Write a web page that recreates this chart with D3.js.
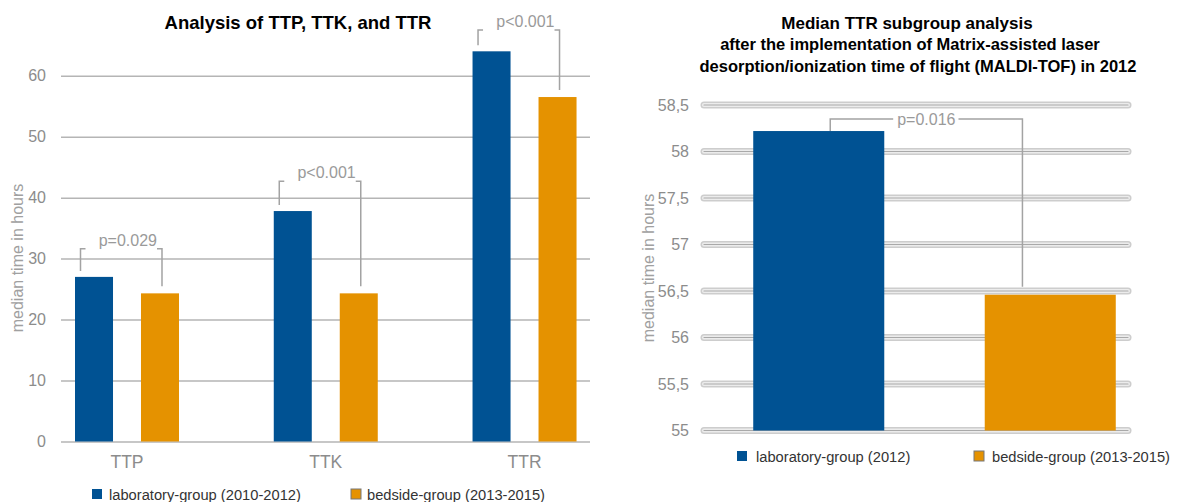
<!DOCTYPE html>
<html>
<head>
<meta charset="utf-8">
<script src="https://cdn.jsdelivr.net/npm/d3@7"></script>
<style>
  body { margin: 0; background: #fff; }
  text { font-family: "Liberation Sans", Arial, sans-serif; }
</style>
</head>
<body>
<div id="chart"></div>
<script>
// left chart: TTP, TTK, TTR
var measures = ["TTP", "TTK", "TTR"];
var groupsLeft = ["laboratory-group (2010-2012)", "bedside-group (2013-2015)"];
var labValues = [27, 37.8, 64];
var bedsideValues = [24.3, 24.3, 56.5];
var leftPLabels = ["p=0.029", "p<0.001", "p<0.001"];
var leftPTop = [31.6, 42.7, 67.5];
var leftTicks = [0, 10, 20, 30, 40, 50, 60];

// right chart: TTR subgroup
var groupsRight = ["laboratory-group (2012)", "bedside-group (2013-2015)"];
var ttrValues = [58.22, 56.46];
var rightPLabel = "p=0.016";
var rightPTop = 58.35;
var rightTicks = [55, 55.5, 56, 56.5, 57, 57.5, 58, 58.5];

var colors = ["#005293", "#e59200"];
var grey = "#8c8c8c";
var bracketColor = "#a3a3a3";

var svg = d3.select("#chart")
  .append("svg")
    .attr("width", 1180)
    .attr("height", 502);

// ---------- left chart ----------
var y = d3.scaleLinear()
  .domain([0, 60])
  .range([441.5, 75.7]);

var x0 = d3.scaleBand()
  .domain(measures)
  .range([27.6, 623.9]);

var x1 = d3.scaleBand()
  .domain([0, 1])
  .range([47.4, 151.4])
  .paddingInner(0.424);

var left = svg.append("g");

left.append("text")
  .attr("x", 298)
  .attr("y", 29)
  .attr("text-anchor", "middle")
  .style("font-size", "18.5px")
  .style("font-weight", "bold")
  .text("Analysis of TTP, TTK, and TTR");

// gridlines + tick labels
var yAxis = left.append("g")
  .attr("transform", "translate(61,0)")
  .call(d3.axisLeft(y).tickValues(leftTicks).tickSize(-(590 - 61)).tickPadding(15).tickFormat(d3.format("d")));
yAxis.select(".domain").remove();
yAxis.selectAll("line").attr("stroke", "#b5b5b5").attr("stroke-width", 1.5);
yAxis.selectAll("text").attr("fill", grey).style("font-size", "16px");

// category labels
var xAxis = left.append("g")
  .attr("transform", "translate(0,441.5)")
  .call(d3.axisBottom(x0).tickSize(0).tickPadding(14.5));
xAxis.select(".domain").remove();
xAxis.selectAll("text").attr("fill", grey).style("font-size", "17.5px");

left.append("text")
  .attr("transform", "translate(23,258) rotate(-90)")
  .attr("text-anchor", "middle")
  .attr("fill", "#a0a0a0")
  .style("font-size", "16px")
  .text("median time in hours");

// bars
measures.forEach(function(m, i) {
  [labValues[i], bedsideValues[i]].forEach(function(v, j) {
    left.append("rect")
      .attr("x", x0(m) + x1(j))
      .attr("y", y(v))
      .attr("width", x1.bandwidth())
      .attr("height", y(0) - y(v))
      .attr("fill", colors[j]);
  });
});

// p-value brackets
measures.forEach(function(m, i) {
  var xl = x0(m) + x1(0) + 5.5;
  var xr = x0(m) + x1(1) + x1.bandwidth() / 2 + 2;
  var yt = y(leftPTop[i]);
  var b = left.append("g")
    .attr("stroke", bracketColor)
    .attr("stroke-width", 1.5)
    .attr("fill", "none");
  b.append("path")
    .attr("d", "M" + xl + "," + (y(labValues[i]) - 6) + "V" + yt + "H" + (xl + 5));
  b.append("path")
    .attr("d", "M" + (xr - 5) + "," + yt + "H" + xr + "V" + (y(bedsideValues[i]) - 7));
  left.append("text")
    .attr("x", xr - 5)
    .attr("y", yt - 3)
    .attr("text-anchor", "end")
    .attr("fill", "#9a9a9a")
    .style("font-size", "16px")
    .text(leftPLabels[i]);
});

// legend
var legendLeftX = [92, 351];
groupsLeft.forEach(function(g, j) {
  left.append("rect")
    .attr("x", legendLeftX[j])
    .attr("y", 489)
    .attr("width", 10)
    .attr("height", 10)
    .attr("fill", colors[j])
    .attr("stroke", j == 1 ? "#777" : "none")
    .attr("stroke-width", 1);
  left.append("text")
    .attr("x", legendLeftX[j] + (j == 0 ? 17 : 16))
    .attr("y", 500)
    .attr("fill", "#333")
    .style("font-size", "14.7px")
    .text(g);
});

// ---------- right chart ----------
var yR = d3.scaleLinear()
  .domain([55, 58.5])
  .range([430.5, 105]);

var xR = d3.scaleBand()
  .domain(groupsRight)
  .range([703, 1166])
  .paddingInner(0.434)
  .paddingOuter(0.217);

var right = svg.append("g");

right.append("text")
  .attr("x", 907)
  .attr("y", 29)
  .attr("text-anchor", "middle")
  .style("font-size", "17px")
  .style("font-weight", "bold")
  .text("Median TTR subgroup analysis");

right.append("text")
  .attr("x", 910)
  .attr("y", 50)
  .attr("text-anchor", "middle")
  .style("font-size", "16.5px")
  .style("font-weight", "bold")
  .text("after the implementation of Matrix-assisted laser");

right.append("text")
  .attr("x", 918)
  .attr("y", 72)
  .attr("text-anchor", "middle")
  .style("font-size", "16.5px")
  .style("font-weight", "bold")
  .text("desorption/ionization time of flight (MALDI-TOF) in 2012");

// tick labels (comma decimals)
var fmt = function(d) { return (d % 1 === 0 ? d3.format("d")(d) : d3.format(".1f")(d)).replace(".", ","); };
var yAxisR = right.append("g")
  .attr("transform", "translate(701,0)")
  .call(d3.axisLeft(yR).tickValues(rightTicks).tickSize(0).tickPadding(12).tickFormat(fmt));
yAxisR.select(".domain").remove();
yAxisR.selectAll("text").attr("fill", grey).style("font-size", "16px");

// embossed gridlines
var grid = right.append("g");
[[7, "#cdcdcd"], [4, "#ececec"], [1.2, "#a9a9a9"]].forEach(function(s) {
  grid.selectAll(null)
    .data(rightTicks)
    .enter()
    .append("line")
      .attr("x1", 704)
      .attr("x2", 1128)
      .attr("y1", function(d) { return yR(d); })
      .attr("y2", function(d) { return yR(d); })
      .attr("stroke", s[1])
      .attr("stroke-width", s[0])
      .attr("stroke-linecap", "round");
});

right.append("text")
  .attr("transform", "translate(654,268) rotate(-90)")
  .attr("text-anchor", "middle")
  .attr("fill", "#a0a0a0")
  .style("font-size", "16px")
  .text("median time in hours");

right.selectAll(".bar")
  .data(groupsRight)
  .enter()
  .append("rect")
    .attr("x", function(d) { return xR(d); })
    .attr("y", function(d, i) { return yR(ttrValues[i]); })
    .attr("width", xR.bandwidth())
    .attr("height", function(d, i) { return yR(55) - yR(ttrValues[i]); })
    .attr("fill", function(d, i) { return colors[i]; });

// p-value bracket
var rxl = xR(groupsRight[0]) + 77;
var rxr = xR(groupsRight[1]) + 37.7;
var ryt = yR(rightPTop);
var pText = right.append("text")
  .attr("x", (rxl + rxr) / 2)
  .attr("y", ryt + 6)
  .attr("text-anchor", "middle")
  .attr("fill", "#9a9a9a")
  .style("font-size", "16px")
  .text(rightPLabel);
var tw = pText.node().getComputedTextLength();
var rb = right.append("g")
  .attr("stroke", bracketColor)
  .attr("stroke-width", 1.5)
  .attr("fill", "none");
rb.append("path")
  .attr("d", "M" + rxl + "," + yR(ttrValues[0]) + "V" + ryt + "H" + ((rxl + rxr) / 2 - tw / 2 - 4));
rb.append("path")
  .attr("d", "M" + ((rxl + rxr) / 2 + tw / 2 + 3) + "," + ryt + "H" + rxr + "V" + (yR(ttrValues[1]) - 8));

// legend
var legendRightX = [737, 974];
groupsRight.forEach(function(g, j) {
  right.append("rect")
    .attr("x", legendRightX[j])
    .attr("y", 451)
    .attr("width", 10)
    .attr("height", 10)
    .attr("fill", colors[j])
    .attr("stroke", j == 1 ? "#777" : "none")
    .attr("stroke-width", 1);
  right.append("text")
    .attr("x", legendRightX[j] + (j == 0 ? 19 : 18))
    .attr("y", 462)
    .attr("fill", "#333")
    .style("font-size", "14.7px")
    .text(g);
});
</script>
</body>
</html>
